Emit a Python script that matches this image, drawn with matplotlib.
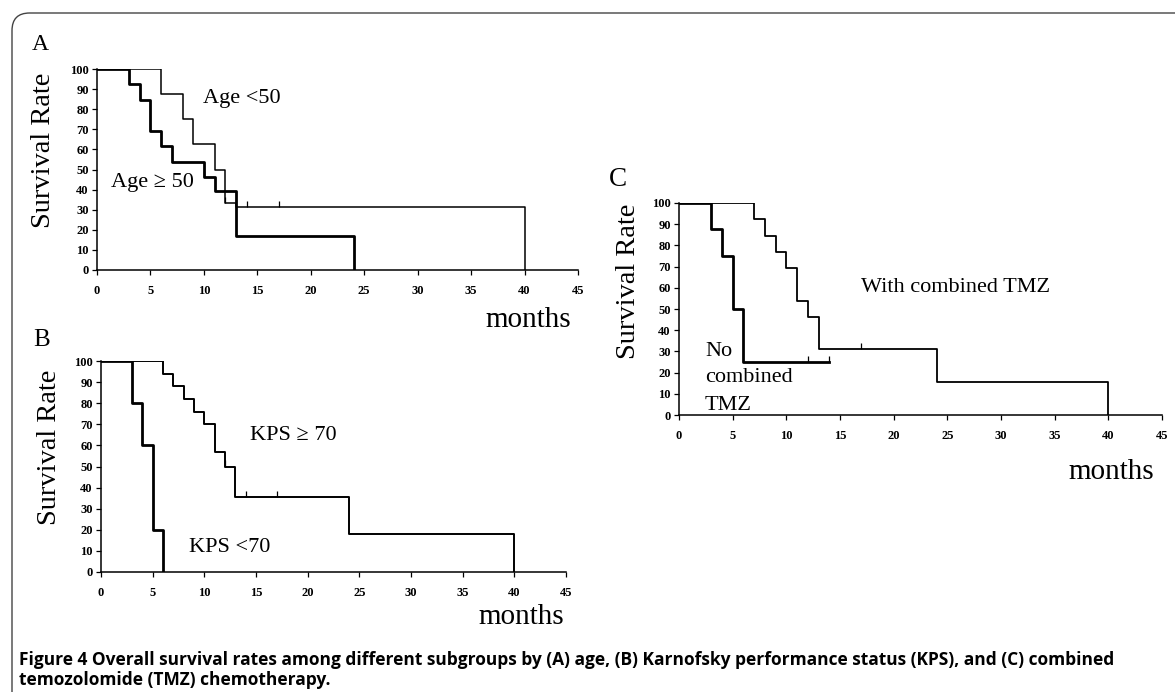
import matplotlib
matplotlib.use("Agg")
import matplotlib.pyplot as plt
from matplotlib.patches import FancyBboxPatch

# Panel A: age
a_young_t = [0, 6, 8, 9, 11, 12, 13, 40]
a_young_s = [100, 87.5, 75, 62.5, 50, 33.5, 31.3, 0]
a_young_cens = [12, 14, 17]
a_old_t = [0, 3, 4, 5, 6, 7, 10, 11, 13, 24]
a_old_s = [100, 92.3, 84.6, 69.2, 61.5, 53.8, 46.2, 39.5, 17, 0]
a_old_cens = [10]

# Panel B: KPS
b_hi_t = [0, 6, 7, 8, 9, 10, 11, 12, 13, 24, 40]
b_hi_s = [100, 94, 88, 82, 76, 70, 57, 50, 35.5, 18, 0]
b_hi_cens = [12, 14, 17]
b_lo_t = [0, 3, 4, 5, 6]
b_lo_s = [100, 80, 60, 20, 0]

# Panel C: combined TMZ
c_with_t = [0, 7, 8, 9, 10, 11, 12, 13, 24, 40]
c_with_s = [100, 92.3, 84.6, 77, 69.2, 54, 46.2, 31, 15.5, 0]
c_with_cens = [17]
c_no_t = [0, 3, 4, 5, 6, 14]
c_no_s = [100, 87.5, 75, 50, 25, 25]
c_no_cens = [12, 14]

xticks = [0, 5, 10, 15, 20, 25, 30, 35, 40, 45]
yticks = [0, 10, 20, 30, 40, 50, 60, 70, 80, 90, 100]

W, H = 1175, 692
SERIF = "Liberation Serif"

fig = plt.figure(figsize=(W / 100, H / 100), dpi=100)


def px_axes(left, top, right, bottom):
    return fig.add_axes([left / W, 1 - bottom / H, (right - left) / W, (bottom - top) / H])


def cens_marks(ax, times, t, s):
    for c in times:
        lvl = s[0]
        for tt, ss in zip(t, s):
            if tt <= c:
                lvl = ss
        ax.vlines(c, lvl, lvl + 3, color="black", lw=0.9)


def style(ax):
    ax.set_xlim(0, 45)
    ax.set_ylim(0, 100)
    ax.set_xticks(xticks)
    ax.set_yticks(yticks)
    for sp in ("top", "right"):
        ax.spines[sp].set_visible(False)
    for sp in ("left", "bottom"):
        ax.spines[sp].set_linewidth(1.1)
    ax.tick_params(direction="out", length=3.5, width=0.9)
    ax.tick_params(axis="x", pad=7)
    ax.tick_params(axis="y", pad=2.5)
    for lab in ax.get_xticklabels() + ax.get_yticklabels():
        lab.set_fontfamily(SERIF)
        lab.set_fontsize(9)
        lab.set_fontweight("bold")
    ax.patch.set_alpha(0)


thin, thick = 1.1, 2.0

# A
axA = px_axes(97, 69, 578, 270)
axA.step(a_young_t, a_young_s, where="post", color="black", lw=thin)
axA.step(a_old_t, a_old_s, where="post", color="black", lw=thick)
cens_marks(axA, a_young_cens, a_young_t, a_young_s)
cens_marks(axA, a_old_cens, a_old_t, a_old_s)
style(axA)

# B
axB = px_axes(101, 361, 566, 572)
axB.step(b_hi_t, b_hi_s, where="post", color="black", lw=1.4)
axB.step(b_lo_t, b_lo_s, where="post", color="black", lw=thick)
cens_marks(axB, b_hi_cens, b_hi_t, b_hi_s)
style(axB)

# C
axC = px_axes(679, 203, 1162, 415)
axC.step(c_with_t, c_with_s, where="post", color="black", lw=1.3)
axC.step(c_no_t, c_no_s, where="post", color="black", lw=thick)
cens_marks(axC, c_with_cens, c_with_t, c_with_s)
cens_marks(axC, c_no_cens, c_no_t, c_no_s)
style(axC)


def ftext(x, y, s, size, **kw):
    fig.text(x / W, 1 - y / H, s, fontsize=size, fontfamily=SERIF, **kw)


# panel letters
ftext(32, 45, "A", 17, va="center")
ftext(33, 340, "B", 18, va="center")
ftext(609, 180, "C", 19.5, va="center")

# y labels
for x, y in [(44, 150), (50, 447), (629, 281)]:
    ftext(x, y, "Survival Rate", 20.5, rotation=90, ha="center", va="center")

# months
for x, y in [(571, 320), (564, 617), (1154, 472)]:
    ftext(x, y, "months", 21, ha="right", va="center")

# curve annotations
ftext(203, 98, "Age <50", 16, va="center")
ftext(111, 182, "Age \u2265 50", 16, va="center")
ftext(250, 435, "KPS \u2265 70", 16, va="center")
ftext(189, 548, "KPS <70", 16, va="center")
ftext(861, 288, "With combined TMZ", 16, va="center")
ftext(705, 352, "No", 16, va="center")
ftext(705, 378, "combined", 16, va="center")
ftext(705, 405, "TMZ", 16, va="center")

# caption
fig.text(19 / W, 1 - 660 / H,
         "Figure 4 Overall survival rates among different subgroups by (A) age, "
         "(B) Karnofsky performance status (KPS), and (C) combined",
         fontsize=12.5, fontfamily="Open Sans", fontweight="bold", va="center")
fig.text(19 / W, 1 - 680 / H, "temozolomide (TMZ) chemotherapy.",
         fontsize=12.5, fontfamily="Open Sans", fontweight="bold", va="center")

# outer frame (open to the right and bottom)
frame = FancyBboxPatch((12 / W, -0.05), 1.1, 1 - 13 / H + 0.05,
                       boxstyle="round,pad=0,rounding_size=0.015",
                       transform=fig.transFigure, fill=False,
                       edgecolor="#444444", lw=1.0, mutation_aspect=W / H)
fig.patches.append(frame)

fig.savefig("out.png", dpi=100)
